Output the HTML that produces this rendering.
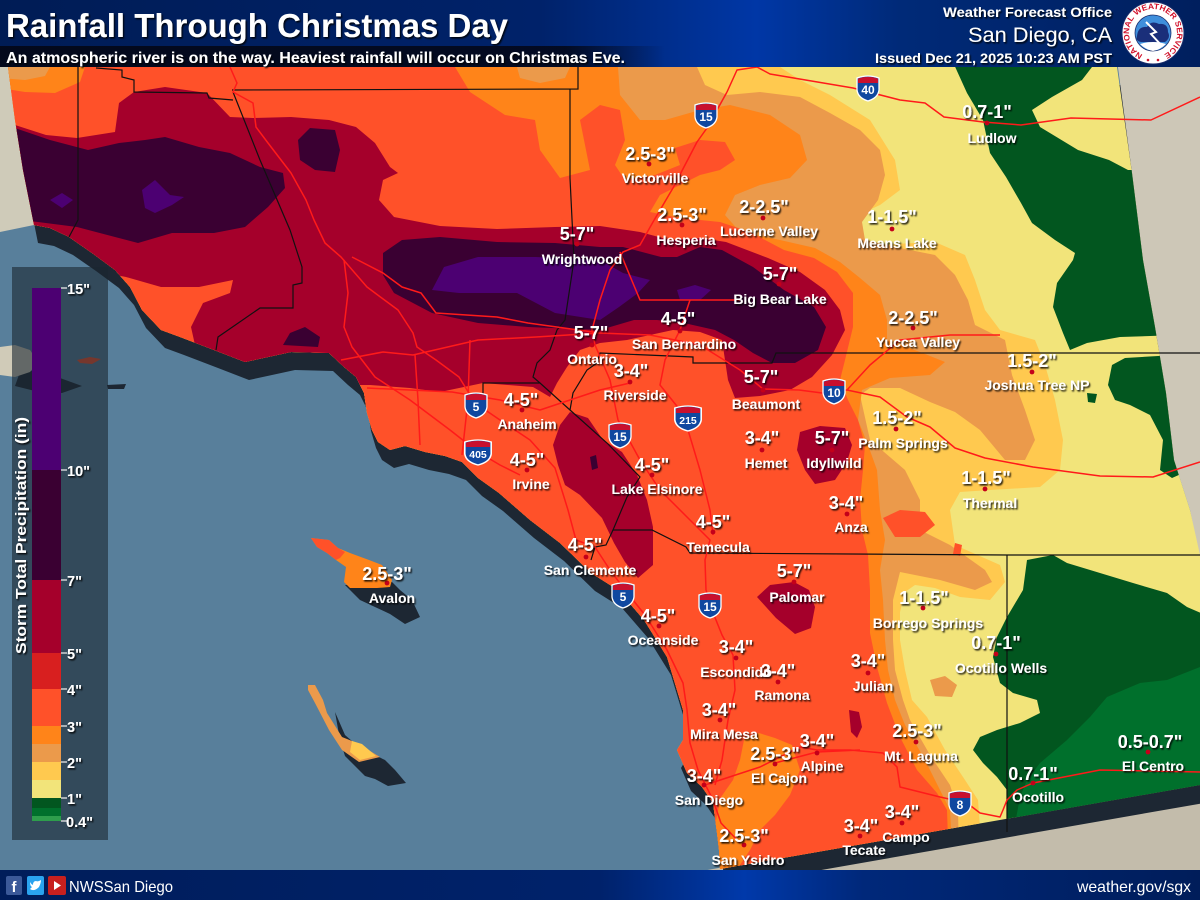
<!DOCTYPE html>
<html><head><meta charset="utf-8"><style>
html,body{margin:0;padding:0;background:#587f9b;}
svg{display:block;font-family:"Liberation Sans",sans-serif;}
.v{font-size:18px;font-weight:bold;fill:#fff;text-anchor:middle;}
.n{font-size:14px;font-weight:bold;fill:#fff;text-anchor:middle;}
.lg{font-size:14.5px;font-weight:bold;fill:#fff;}
.sn{font-size:12px;font-weight:bold;fill:#fff;text-anchor:middle;}
</style></head><body>
<svg width="1200" height="900" viewBox="0 0 1200 900" xmlns="http://www.w3.org/2000/svg">
<defs>
<clipPath id="lc"><polygon points="8,67 1117,67 1132,173 1143,260 1155,327 1166,393 1174,460 1190,510 1200,555 1200,785 720,869 719,850 717,833 713,803 702,787 687,773 677,750 683,740 683,710 667,657 644,620 618,590 591,573 560,543 530,520 499,493 478,478 462,462 445,456 425,452 405,446 390,450 378,442 372,430 367,413 364,393 356,377 344,367 329,353 291,352 268,357 245,362 214,350 180,337 161,330 142,310 130,287 115,270 92,253 69,237 50,228 34,225 23,170 15,120"/></clipPath>
<filter id="ds" x="-20%" y="-30%" width="140%" height="170%"><feDropShadow dx="1.3" dy="1.6" stdDeviation="0.9" flood-color="#000" flood-opacity="0.85"/></filter>
<linearGradient id="hg" x1="0" x2="1" y1="0" y2="0"><stop offset="0" stop-color="#001c55"/><stop offset="0.45" stop-color="#00226a"/><stop offset="0.63" stop-color="#0037a6"/><stop offset="0.75" stop-color="#002a78"/><stop offset="1" stop-color="#001f5e"/></linearGradient>
<linearGradient id="sb" x1="0" x2="1" y1="0" y2="0"><stop offset="0" stop-color="#03081a" stop-opacity="0.97"/><stop offset="0.85" stop-color="#03081a" stop-opacity="0.9"/><stop offset="1" stop-color="#03081a" stop-opacity="0"/></linearGradient>
<linearGradient id="fg" x1="0" x2="1" y1="0" y2="0"><stop offset="0" stop-color="#001d5a"/><stop offset="0.5" stop-color="#00226b"/><stop offset="0.62" stop-color="#0039aa"/><stop offset="0.72" stop-color="#00287a"/><stop offset="1" stop-color="#001d5a"/></linearGradient>
<g id="shd"><path d="M-11,-10 Q0,-14 11,-10 L11,2 Q10,10 0,13 Q-10,10 -11,2 Z" fill="#1048a0" stroke="#fff" stroke-width="1.3"/><path d="M-10,-9.4 Q0,-12.8 10,-9.4 L10,-5 L-10,-5 Z" fill="#c8102e"/></g>
</defs>

<!-- ocean -->
<rect x="0" y="60" width="1200" height="815" fill="#587f9b"/>
<!-- terrain -->
<polygon points="0,67 8,67 15,120 23,170 34,225 0,232" fill="#cfcbb9"/>
<polygon points="680,875 1200,780 1200,875" fill="#c3bcab"/>
<!-- left islands -->
<polygon points="20,372 40,370 60,378 82,386 62,393 35,391 15,386" fill="#1d2733"/>
<polygon points="0,347 15,345 30,350 38,362 30,372 15,377 0,375" fill="#d0cbb8"/>
<polygon points="77,360 90,357 101,359 92,364 80,363" fill="#ff5129"/>
<polygon points="107,385 126,384 124,389 108,389" fill="#1d2733"/>
<!-- coast shadow -->
<polygon transform="translate(4,18)" fill="#1d2733" points="8,67 1117,67 1132,173 1143,260 1155,327 1166,393 1174,460 1190,510 1200,555 1200,785 720,869 719,850 717,833 713,803 702,787 687,773 677,750 683,740 683,710 667,657 644,620 618,590 591,573 560,543 530,520 499,493 478,478 462,462 445,456 425,452 405,446 390,450 378,442 372,430 367,413 364,393 356,377 344,367 329,353 291,352 268,357 245,362 214,350 180,337 161,330 142,310 130,287 115,270 92,253 69,237 50,228 34,225 23,170 15,120"/>
<polygon points="1117,60 1200,60 1200,560 1190,510 1174,460 1166,393 1155,327 1143,260 1132,173" fill="#cdc7b7"/>

<!-- data layers -->
<g clip-path="url(#lc)">
<rect x="0" y="60" width="1200" height="820" fill="#f2e47a"/>
<polygon fill="#ffc94f" points="780,67 800,80 830,95 870,120 895,160 900,190 880,205 858,215 850,235 875,245 935,242 965,255 975,280 985,310 1000,330 1035,340 1045,365 1055,400 1063,440 1060,470 1040,487 990,490 960,492 950,510 955,545 1000,565 1005,582 990,600 960,597 935,588 915,585 905,592 900,612 900,640 905,670 912,700 927,717 945,750 965,780 978,800 985,900 0,900 0,60 780,60"/>
<polygon fill="#eb9a4b" points="697,60 697,67 705,85 727,95 760,92 800,97 830,113 860,130 880,150 885,175 878,200 862,222 865,240 900,248 935,255 955,275 968,300 975,325 1005,340 1012,375 1025,410 1035,440 1025,460 1005,460 980,430 955,412 930,402 900,388 870,388 860,395 870,440 905,470 920,500 920,530 950,545 985,570 992,582 975,590 940,580 900,572 893,600 893,640 895,670 903,700 910,720 930,755 950,785 958,810 960,900 0,900 0,60"/>
<polygon fill="#ff8419" points="618,60 618,67 620,95 640,120 665,120 700,110 730,105 770,115 800,135 807,160 790,178 760,185 735,195 725,215 740,232 780,240 815,248 840,262 860,278 880,295 887,320 887,340 920,352 945,362 930,375 890,378 862,390 858,420 868,445 877,470 880,510 885,540 880,570 883,600 885,640 888,670 895,700 905,725 925,760 940,790 950,810 955,900 0,900 0,60"/>
<polygon fill="#ff5129" points="455,60 455,67 470,92 505,115 535,120 540,150 560,178 590,170 585,145 580,120 600,105 620,110 625,140 615,165 625,180 655,175 680,165 675,148 700,140 725,142 735,160 720,170 700,175 680,185 660,195 650,212 680,218 720,222 750,232 784,250 814,258 837,272 853,293 853,327 845,360 840,380 848,400 858,420 865,445 863,470 860,500 862,530 868,555 870,590 870,633 877,667 887,703 900,737 917,770 937,793 947,810 950,900 0,900 0,60"/>
<!-- patches -->
<polygon fill="#ff8419" points="0,60 85,60 85,67 80,82 55,93 25,92 0,88"/>
<polygon fill="#eb9a4b" points="0,60 50,60 50,67 45,76 25,80 0,78"/>
<polygon fill="#eb9a4b" points="515,60 570,60 570,67 565,78 540,83 520,78"/>
<polygon fill="#ff5129" points="883,518 900,510 925,512 935,525 920,537 895,537"/>
<polygon fill="#ff5129" points="955,543 962,545 960,556 953,554"/>
<polygon fill="#eb9a4b" points="930,680 945,676 957,685 952,697 935,696"/>
<polygon fill="#ff8419" points="744,740 759,733 775,738 792,745 800,770 790,795 775,815 760,830 750,850 740,865 720,875 712,840 716,820 721,797 733,780 740,760"/>
<!-- crimson -->
<polygon fill="#a5002b" points="15,125 46,135 77,138 115,132 119,103 134,92 165,87 207,93 230,117 253,118 291,117 329,120 356,127 375,143 390,167 398,173 383,180 379,200 394,217 440,226 497,229 555,227 600,226 640,232 670,240 700,238 726,242 768,258 800,272 825,290 840,310 845,330 832,355 812,377 790,390 760,396 735,398 728,380 725,360 722,340 700,332 673,330 627,340 600,343 580,350 567,367 557,383 550,397 533,387 483,383 440,392 410,388 370,385 356,385 360,420 200,400 195,345 191,327 203,303 230,293 233,280 199,287 161,287 126,277 90,270 0,270 0,125"/>
<polygon fill="#a5002b" points="570,412 588,418 603,440 622,452 637,475 647,500 653,527 653,565 638,578 625,562 614,543 602,518 580,495 565,485 558,465 553,445 560,425"/>
<polygon fill="#a5002b" points="757,597 770,585 794,582 809,590 815,607 811,628 795,634 776,618"/>
<polygon fill="#a5002b" points="800,432 820,426 845,428 852,445 847,462 835,480 815,484 805,470 797,450"/>
<polygon fill="#a5002b" points="849,710 859,712 862,727 857,738 851,732"/>
<!-- dark -->
<polygon fill="#3a0032" points="0,128 15,128 50,140 88,150 119,143 145,140 165,137 199,147 230,153 260,167 283,173 285,188 268,207 245,227 214,233 172,233 138,243 115,237 77,227 38,222 0,218"/>
<polygon fill="#3a0032" points="298,140 310,128 335,130 340,150 335,172 315,170 300,160"/>
<polygon fill="#3a0032" points="283,345 290,333 305,327 320,337 318,347"/>
<polygon fill="#3a0032" points="383,253 402,240 440,237 497,242 555,243 600,247 623,247 661,257 677,257 700,247 722,250 753,267 784,290 814,307 826,327 818,350 795,363 772,363 753,353 734,340 715,330 684,323 657,320 634,320 600,330 528,327 478,323 432,313 394,293 383,275"/>
<polygon fill="#3a0032" points="590,457 596,455 598,468 592,470"/>
<!-- purple -->
<polygon fill="#4c0072" points="432,290 444,267 478,257 536,257 600,260 623,273 650,280 638,293 619,307 600,320 555,313 517,293 459,293"/>
<polygon fill="#4c0072" points="677,290 695,285 711,290 700,300 680,300"/>
<polygon fill="#4c0072" points="50,200 62,193 73,200 62,208"/>
<polygon fill="#4c0072" points="142,190 155,180 170,195 184,197 172,205 155,213 145,208"/>
<!-- green -->
<polygon fill="#02561f" points="952,60 1092,60 1092,67 1082,80 1052,97 1032,110 1040,127 1078,150 1109,160 1128,170 1170,170 1180,335 1120,337 1087,343 1070,350 1063,333 1053,307 1057,283 1073,260 1075,253 1055,240 1032,223 1021,203 1006,177 990,153 983,120 967,93"/>
<polygon fill="#02561f" points="1108,385 1112,365 1125,358 1175,355 1190,470 1172,478 1160,470 1163,440 1150,415 1130,405 1115,400"/>
<polygon fill="#02561f" points="1087,393 1097,394 1095,403 1088,402"/>
<polygon fill="#02561f" points="1027,560 1053,555 1067,563 1100,573 1133,583 1167,593 1187,607 1210,617 1210,800 1007,835 1007,790 997,777 983,763 973,750 980,737 997,730 1020,723 1040,713 1037,700 1013,693 1000,683 993,657 997,637 1007,617 1023,590"/>
<polygon fill="#00702c" points="1210,663 1167,680 1140,683 1107,697 1090,717 1067,740 1040,763 1027,780 1020,797 1013,835 1210,800"/>
</g>

<!-- islands -->
<polygon fill="#1d2733" points="345,585 392,582 400,590 412,600 420,617 405,624 390,614 375,607 360,600"/>
<polygon fill="#ff8419" points="311,538 329,540 338,548 350,553 369,560 382,565 392,580 390,587 377,588 350,588 344,582 346,567 336,560 327,553 317,547"/>
<polygon fill="#ff5129" points="311,538 329,540 338,548 345,552 340,558 336,560 327,553 317,547"/>
<polygon fill="#1d2733" points="335,712 345,735 360,748 385,760 395,770 406,783 388,786 375,779 365,776 355,766 345,756 340,740"/>
<polygon fill="#eb9a4b" points="308,685 315,685 323,700 327,713 342,737 357,743 380,757 359,762 342,750 329,730 315,703 308,690"/>
<polygon fill="#ffc94f" points="352,741 362,744 376,756 360,760 350,752"/>

<!-- county lines -->
<g fill="none" stroke="#111" stroke-width="1.2">
<polyline points="78,67 78,220 69,237"/>
<polyline points="96,68 122,70 122,77 134,80 134,92 207,93 209,98 233,100"/>
<polyline points="232,90 578,89 578,67"/>
<polyline points="233,92 260,160 290,230 302,267 302,283 293,285 293,308 260,308 218,337 216,350"/>
<polyline points="570,89 570,178 574,260 565,320 557,330 550,350 537,363 533,377 540,383"/>
<polyline points="483,398 483,383 540,383 570,410 607,443 640,477 627,497 613,530 652,530 686,547 690,553 1007,555 1200,555"/>
<polyline points="570,410 573,393 587,370 597,363 600,353 693,357 693,363 772,363 776,353 1200,353"/>
<polyline points="613,530 606,545 595,547 591,560"/>
<polyline points="1007,555 1007,832"/>
</g>

<!-- roads -->
<g fill="none" stroke="#ff1a1a" stroke-width="1.5" stroke-linejoin="round">
<polyline points="727,92 737,70 757,67 770,74 853,88 900,100 925,103 944,117 983,122 1021,125 1071,118 1151,120 1200,97"/>
<polyline points="727,92 707,128 697,142 673,188 653,222 640,245 623,252 610,270 600,300 592,330 595,345 610,380 618,420 640,460 660,490 690,520 710,540 705,560 706,590 712,610 722,635 733,655 735,690 728,720 722,760 715,785"/>
<polyline points="341,360 383,352 413,355 478,340 536,337 600,333 650,335 700,345 740,370 763,389 799,390 822,393 847,390 880,397 907,417 930,427 955,448 985,458 1033,467 1100,476 1153,477 1200,462"/>
<polyline points="230,67 237,83 233,92 253,103 256,127 268,143 291,173 306,200 314,220 325,243 341,257 367,287 398,310 413,333 417,347 436,360 459,377 475,403 500,420 530,440 555,468 568,510 576,540 595,547 610,570 625,590 645,615 667,650 683,683 687,710 690,743 698,770 713,800 721,823 740,843"/>
<polyline points="705,785 760,767 800,747 817,750 850,750 883,753 897,767 900,787 940,797 967,803 980,813 1000,817 1003,810 1007,800 1017,790 1033,783 1100,770 1200,772"/>
<polyline points="690,300 680,330 665,360 660,385 680,410 688,430 700,470 710,510 713,535"/>
<polyline points="344,260 348,293 344,327 352,347 375,377 410,400 450,430 478,452 500,465 520,475"/>
<polyline points="367,388 452,392 500,400 540,410 570,400 600,390 630,383"/>
<polyline points="352,257 383,273 402,287 421,293 436,313 497,317 528,323 600,333"/>
<polyline points="415,355 418,400 420,445"/>
<polyline points="470,340 468,400 462,455"/>
<polyline points="620,252 640,300 690,300 740,300"/>
<polyline points="775,763 817,752 860,750"/>
<polyline points="847,390 870,365 900,340 950,335 1000,335"/>
</g>

<!-- shields -->
<g>
<use href="#shd" transform="translate(868,88)"/><text class="sn" x="868" y="94">40</text>
<use href="#shd" transform="translate(706,115)"/><text class="sn" x="706" y="121">15</text>
<use href="#shd" transform="translate(476,405)"/><text class="sn" x="476" y="411">5</text>
<use href="#shd" transform="translate(478,452) scale(1.2,1)"/><text class="sn" x="478" y="458" style="font-size:10.5px">405</text>
<use href="#shd" transform="translate(620,435)"/><text class="sn" x="620" y="441">15</text>
<use href="#shd" transform="translate(688,418) scale(1.2,1)"/><text class="sn" x="688" y="424" style="font-size:10.5px">215</text>
<use href="#shd" transform="translate(834,391)"/><text class="sn" x="834" y="397">10</text>
<use href="#shd" transform="translate(623,595)"/><text class="sn" x="623" y="601">5</text>
<use href="#shd" transform="translate(710,605)"/><text class="sn" x="710" y="611">15</text>
<use href="#shd" transform="translate(960,803)"/><text class="sn" x="960" y="809">8</text>
</g>

<!-- dots -->
<g fill="#c4001a">
<circle cx="649" cy="164" r="2.4"/><circle cx="682" cy="225" r="2.4"/><circle cx="763" cy="218" r="2.4"/><circle cx="892" cy="229" r="2.4"/><circle cx="987" cy="123" r="2.4"/><circle cx="577" cy="244" r="2.4"/><circle cx="779" cy="284" r="2.4"/><circle cx="913" cy="328" r="2.4"/><circle cx="1032" cy="372" r="2.4"/><circle cx="592" cy="345" r="2.4"/><circle cx="680" cy="331" r="2.4"/><circle cx="630" cy="382" r="2.4"/><circle cx="763" cy="390" r="2.4"/><circle cx="896" cy="429" r="2.4"/><circle cx="522" cy="410" r="2.4"/><circle cx="762" cy="450" r="2.4"/><circle cx="832" cy="450" r="2.4"/><circle cx="985" cy="489" r="2.4"/><circle cx="527" cy="470" r="2.4"/><circle cx="652" cy="475" r="2.4"/><circle cx="847" cy="514" r="2.4"/><circle cx="713" cy="532" r="2.4"/><circle cx="586" cy="557" r="2.4"/><circle cx="387" cy="583" r="2.4"/><circle cx="794" cy="582" r="2.4"/><circle cx="923" cy="608" r="2.4"/><circle cx="996" cy="654" r="2.4"/><circle cx="659" cy="626" r="2.4"/><circle cx="736" cy="658" r="2.4"/><circle cx="778" cy="682" r="2.4"/><circle cx="868" cy="673" r="2.4"/><circle cx="720" cy="720" r="2.4"/><circle cx="916" cy="742" r="2.4"/><circle cx="817" cy="753" r="2.4"/><circle cx="775" cy="764" r="2.4"/><circle cx="1148" cy="752" r="2.4"/><circle cx="1033" cy="783" r="2.4"/><circle cx="704" cy="785" r="2.4"/><circle cx="902" cy="823" r="2.4"/><circle cx="860" cy="836" r="2.4"/><circle cx="744" cy="845" r="2.4"/>
</g>

<!-- labels -->
<g filter="url(#ds)">
<text class="n" x="655" y="183">Victorville</text><text class="v" x="650" y="160">2.5-3"</text>
<text class="n" x="686" y="245">Hesperia</text><text class="v" x="682" y="221">2.5-3"</text>
<text class="n" x="769" y="236">Lucerne Valley</text><text class="v" x="764" y="213">2-2.5"</text>
<text class="n" x="897" y="248">Means Lake</text><text class="v" x="892" y="223">1-1.5"</text>
<text class="n" x="992" y="143">Ludlow</text><text class="v" x="987" y="118">0.7-1"</text>
<text class="n" x="582" y="264">Wrightwood</text><text class="v" x="577" y="240">5-7"</text>
<text class="n" x="780" y="304">Big Bear Lake</text><text class="v" x="780" y="280">5-7"</text>
<text class="n" x="918" y="347">Yucca Valley</text><text class="v" x="913" y="324">2-2.5"</text>
<text class="n" x="1037" y="390">Joshua Tree NP</text><text class="v" x="1032" y="367">1.5-2"</text>
<text class="n" x="592" y="364">Ontario</text><text class="v" x="591" y="339">5-7"</text>
<text class="n" x="684" y="349">San Bernardino</text><text class="v" x="678" y="325">4-5"</text>
<text class="n" x="635" y="400">Riverside</text><text class="v" x="631" y="377">3-4"</text>
<text class="n" x="766" y="409">Beaumont</text><text class="v" x="761" y="383">5-7"</text>
<text class="n" x="903" y="448">Palm Springs</text><text class="v" x="897" y="424">1.5-2"</text>
<text class="n" x="527" y="429">Anaheim</text><text class="v" x="521" y="406">4-5"</text>
<text class="n" x="766" y="468">Hemet</text><text class="v" x="762" y="444">3-4"</text>
<text class="n" x="834" y="468">Idyllwild</text><text class="v" x="832" y="444">5-7"</text>
<text class="n" x="990" y="508">Thermal</text><text class="v" x="986" y="484">1-1.5"</text>
<text class="n" x="531" y="489">Irvine</text><text class="v" x="527" y="466">4-5"</text>
<text class="n" x="657" y="494">Lake Elsinore</text><text class="v" x="652" y="471">4-5"</text>
<text class="n" x="851" y="532">Anza</text><text class="v" x="846" y="509">3-4"</text>
<text class="n" x="718" y="552">Temecula</text><text class="v" x="713" y="528">4-5"</text>
<text class="n" x="590" y="575">San Clemente</text><text class="v" x="585" y="551">4-5"</text>
<text class="n" x="392" y="603">Avalon</text><text class="v" x="387" y="580">2.5-3"</text>
<text class="n" x="797" y="602">Palomar</text><text class="v" x="794" y="577">5-7"</text>
<text class="n" x="928" y="628">Borrego Springs</text><text class="v" x="924" y="604">1-1.5"</text>
<text class="n" x="1001" y="673">Ocotillo Wells</text><text class="v" x="996" y="649">0.7-1"</text>
<text class="n" x="663" y="645">Oceanside</text><text class="v" x="658" y="622">4-5"</text>
<text class="n" x="736" y="677">Escondido</text><text class="v" x="736" y="653">3-4"</text>
<text class="n" x="782" y="700">Ramona</text><text class="v" x="778" y="677">3-4"</text>
<text class="n" x="873" y="691">Julian</text><text class="v" x="868" y="667">3-4"</text>
<text class="n" x="724" y="739">Mira Mesa</text><text class="v" x="719" y="716">3-4"</text>
<text class="n" x="921" y="761">Mt. Laguna</text><text class="v" x="917" y="737">2.5-3"</text>
<text class="n" x="822" y="771">Alpine</text><text class="v" x="817" y="747">3-4"</text>
<text class="n" x="779" y="783">El Cajon</text><text class="v" x="775" y="760">2.5-3"</text>
<text class="n" x="1153" y="771">El Centro</text><text class="v" x="1150" y="748">0.5-0.7"</text>
<text class="n" x="1038" y="802">Ocotillo</text><text class="v" x="1033" y="780">0.7-1"</text>
<text class="n" x="709" y="805">San Diego</text><text class="v" x="704" y="782">3-4"</text>
<text class="n" x="906" y="842">Campo</text><text class="v" x="902" y="818">3-4"</text>
<text class="n" x="864" y="855">Tecate</text><text class="v" x="861" y="832">3-4"</text>
<text class="n" x="748" y="865">San Ysidro</text><text class="v" x="744" y="842">2.5-3"</text>
</g>

<!-- legend -->
<rect x="12" y="267" width="96" height="573" fill="#1b2631" fill-opacity="0.6"/>
<rect x="32" y="288" width="29" height="182" fill="#4c0072"/>
<rect x="32" y="470" width="29" height="110" fill="#3a0032"/>
<rect x="32" y="580" width="29" height="73" fill="#a5002b"/>
<rect x="32" y="653" width="29" height="36" fill="#d81f1f"/>
<rect x="32" y="689" width="29" height="37" fill="#ff5129"/>
<rect x="32" y="726" width="29" height="18" fill="#ff8419"/>
<rect x="32" y="744" width="29" height="18" fill="#eb9a4b"/>
<rect x="32" y="762" width="29" height="18" fill="#ffc94f"/>
<rect x="32" y="780" width="29" height="18" fill="#f2e47a"/>
<rect x="32" y="798" width="29" height="10" fill="#02561f"/>
<rect x="32" y="808" width="29" height="8" fill="#00702c"/>
<rect x="32" y="816" width="29" height="5" fill="#2e9e4c"/>
<g stroke="#e8e8e8" stroke-width="1.3">
<line x1="61" y1="288" x2="67" y2="288"/><line x1="61" y1="470" x2="67" y2="470"/><line x1="61" y1="580" x2="67" y2="580"/><line x1="61" y1="653" x2="67" y2="653"/><line x1="61" y1="689" x2="67" y2="689"/><line x1="61" y1="726" x2="67" y2="726"/><line x1="61" y1="762" x2="67" y2="762"/><line x1="61" y1="798" x2="67" y2="798"/><line x1="61" y1="821" x2="67" y2="821"/>
</g>
<g filter="url(#ds)">
<text class="lg" x="67" y="294">15"</text><text class="lg" x="67" y="476">10"</text><text class="lg" x="67" y="586">7"</text><text class="lg" x="67" y="659">5"</text><text class="lg" x="67" y="695">4"</text><text class="lg" x="67" y="732">3"</text><text class="lg" x="67" y="768">2"</text><text class="lg" x="67" y="804">1"</text><text class="lg" x="66" y="827">0.4"</text>
<text x="0" y="0" transform="translate(26,654) rotate(-90)" font-size="15" font-weight="bold" fill="#fff" textLength="237" lengthAdjust="spacingAndGlyphs">Storm Total Precipitation (in)</text>
</g>

<!-- header -->
<rect x="0" y="0" width="1200" height="67" fill="url(#hg)"/>
<rect x="0" y="46" width="665" height="21" fill="url(#sb)"/>
<g filter="url(#ds)">
<text x="6" y="37" font-size="33" font-weight="bold" fill="#fff" textLength="502" lengthAdjust="spacingAndGlyphs">Rainfall Through Christmas Day</text>
<text x="6" y="63" font-size="16" font-weight="bold" fill="#fff" textLength="619" lengthAdjust="spacingAndGlyphs">An atmospheric river is on the way. Heaviest rainfall will occur on Christmas Eve.</text>
<text x="943" y="17" font-size="14" font-weight="bold" fill="#fff" textLength="169" lengthAdjust="spacingAndGlyphs">Weather Forecast Office</text>
<text x="968" y="42" font-size="21" fill="#fff" textLength="144" lengthAdjust="spacingAndGlyphs">San Diego, CA</text>
<text x="875" y="63" font-size="14" font-weight="bold" fill="#fff" textLength="237" lengthAdjust="spacingAndGlyphs">Issued Dec 21, 2025 10:23 AM PST</text>
</g>
<!-- NWS logo -->
<g>
<circle cx="1153" cy="33" r="31" fill="#fff" stroke="#1b2d6b" stroke-width="1"/>
<path id="ring" d="M1153,57 a24,24 0 1,1 0,-48 a24,24 0 1,1 0,48" fill="none"/>
<text font-size="8" font-weight="bold" fill="#d0102a"><textPath href="#ring" startOffset="7%" textLength="128" lengthAdjust="spacingAndGlyphs">NATIONAL WEATHER SERVICE</textPath></text>
<circle cx="1153" cy="33" r="18" fill="#3f8fdc" stroke="#1b2d6b" stroke-width="0.8"/>
<path d="M1137,36 Q1138,26 1147,27 Q1151,20 1159,24 Q1168,23 1168,32 Q1171,38 1165,42 L1141,42 Q1135,41 1137,36 Z" fill="#1a2f7a"/>
<path d="M1140,44 Q1153,40 1166,44 Q1160,50 1153,51 Q1146,50 1140,44 Z" fill="#fff"/>
<polyline points="1146,22 1156,32 1151,34 1162,46" fill="none" stroke="#fff" stroke-width="2"/>
<circle cx="1148" cy="60" r="1.3" fill="#d0102a"/><circle cx="1158" cy="60" r="1.3" fill="#d0102a"/>
</g>

<!-- footer -->
<rect x="0" y="870" width="1200" height="30" fill="url(#fg)"/>
<rect x="6" y="876" width="16" height="19" rx="2" fill="#3b5998"/>
<text x="14" y="892" font-size="15" font-weight="bold" fill="#fff" text-anchor="middle">f</text>
<rect x="27" y="876" width="17" height="19" rx="2" fill="#2aa3ef"/>
<path d="M30,889 Q34,892 39,887 Q41,883 41,880 Q38,882 36,881 Q33,881 33,885 Q31,884 30,882 Q30,886 32,887 Z" fill="#fff"/>
<rect x="48" y="876" width="18" height="19" rx="2" fill="#c8201e"/>
<polygon points="54,881 54,890 61,885.5" fill="#fff"/>
<text x="69" y="892" font-size="16" fill="#fff" textLength="104" lengthAdjust="spacingAndGlyphs">NWSSan Diego</text>
<text x="1077" y="892" font-size="16" fill="#fff" textLength="114" lengthAdjust="spacingAndGlyphs">weather.gov/sgx</text>
</svg>
</body></html>
